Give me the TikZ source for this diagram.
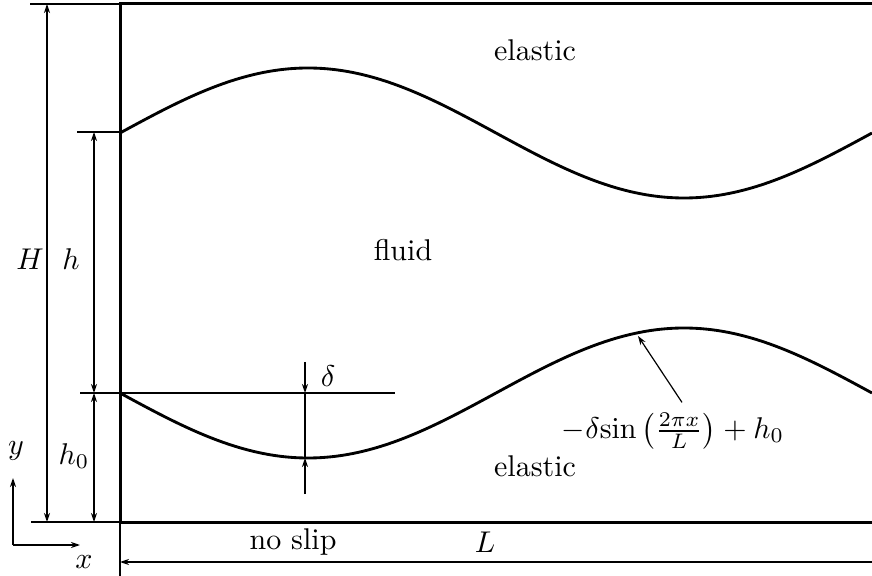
\documentclass[tikz,border=0pt]{standalone}
\usetikzlibrary{arrows.meta}
\begin{document}
\begin{tikzpicture}[
    x=0.3333pt, y=-0.3333pt,
    >={Stealth[length=3pt,width=2pt]},
    wall/.style={line width=1pt},
    surface/.style={line width=0.95pt, domain=120:872, samples=150, smooth},
    dimline/.style={<->, line width=0.4pt},
    extline/.style={line width=0.4pt},
    pointer/.style={->, line width=0.4pt}
]
\useasboundingbox (0,0) rectangle (872,576);

% Channel walls
\coordinate (tl) at (120,4);
\coordinate (tr) at (872,4);
\coordinate (bl) at (120,522);
\coordinate (br) at (872,522);
\draw[wall] (tr) -- (tl) -- (bl) -- (br);

% Elastic surfaces
\draw[surface] plot (\x, {133 - 65*sin(0.47872*(\x-120))});
\draw[surface] plot (\x, {393 + 65*sin(0.47872*(\x-120))});

% Extension lines
\coordinate (Htop) at (30,4);
\coordinate (Hbot) at (31,522);
\coordinate (htop) at (77,132);
\coordinate (hwall) at (120,132);
\coordinate (hmid) at (80,393);
\coordinate (dref) at (395,393);
\coordinate (Lfoot) at (120,576);
\draw[extline] (Htop) -- (tl);
\draw[extline] (Hbot) -- (bl);
\draw[extline] (htop) -- (hwall);
\draw[extline] (hmid) -- (dref);
\draw[extline] (bl) -- (Lfoot);

% Dimensions
\coordinate (H1) at (47,4);
\coordinate (H2) at (47,522);
\coordinate (h1) at (94,132);
\coordinate (h2) at (94,393);
\coordinate (h3) at (94,522);
\coordinate (L1) at (120,562);
\coordinate (L2) at (872,562);
\draw[dimline] (H1) -- (H2);
\draw[dimline] (h1) -- (h2);
\draw[dimline] (h2) -- (h3);
\draw[<-, line width=0.4pt] (L1) -- (L2);

\node (Hlbl) at (30,259) {$H$};
\node (hlbl) at (71,259) {$h$};
\node (h0lbl) at (74,456) {$h_0$};
\node (Llbl) at (485,542) {$L$};
\node (noslip) at (293,542) {no slip};

% Amplitude
\coordinate (d0) at (305,362);
\coordinate (d1) at (305,393);
\coordinate (d2) at (305,458);
\coordinate (d3) at (305,494);
\draw[pointer] (d0) -- (d1);
\draw[extline] (d1) -- (d2);
\draw[pointer] (d3) -- (d2);
\node (dlbl) at (328,376) {$\delta$};

% Regions
\node (elastictop) at (535,50) {elastic};
\node (fluid) at (403,250) {fluid};
\node (elasticbot) at (535,466) {elastic};

% Surface formula
\node (formula) at (673,431) {$-\delta\mathrm{sin}\left(\frac{2\pi x}{L}\right)+h_0$};
\coordinate (tip) at (638,336);
\draw[pointer] ([xshift=3pt]formula.north) -- (tip);

% Axes
\coordinate (origin) at (13,545);
\coordinate (yend) at (13,478);
\coordinate (xend) at (80,545);
\draw[pointer] (origin) -- (yend);
\draw[pointer] (origin) -- (xend);
\node (ylbl) at (16,451) {$y$};
\node (xlbl) at (84,562) {$x$};

\end{tikzpicture}
\end{document}
